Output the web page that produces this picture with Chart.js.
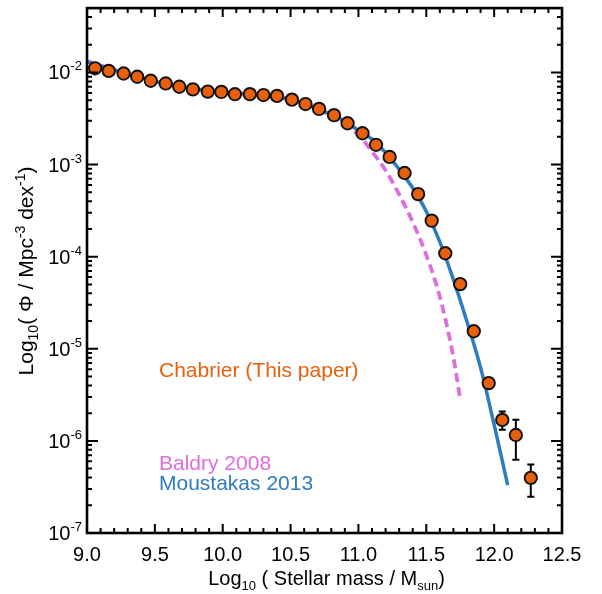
<!DOCTYPE html>
<html>
<head>
<meta charset="utf-8">
<script src="https://cdn.jsdelivr.net/npm/chart.js@4.4.1/dist/chart.umd.min.js"></script>
<style>
  body { margin: 0; background: #fff; }
  #wrap { width: 602px; height: 594px; position: relative; }
</style>
</head>
<body>
<div id="wrap"><canvas id="smf"></canvas></div>
<script>
/* Stellar mass function : Chabrier points vs Baldry 2008 / Moustakas 2013 fits */
const FONT = '"Liberation Sans", Arial, Helvetica, sans-serif';

// Chabrier (This paper)
const massPts = [9.06, 9.16, 9.27, 9.37, 9.47, 9.58, 9.68, 9.78, 9.89, 9.99, 10.09, 10.20, 10.30, 10.40, 10.51, 10.61,
                 10.71, 10.82, 10.92, 11.03, 11.13, 11.23, 11.34, 11.44, 11.54, 11.64, 11.75, 11.85, 11.96, 12.06, 12.16, 12.27];
const phiPts = [1.11e-2, 1.04e-2, 9.75e-3, 8.99e-3, 8.13e-3, 7.60e-3, 7.00e-3, 6.55e-3, 6.20e-3, 6.15e-3, 5.81e-3, 5.82e-3,
                5.69e-3, 5.57e-3, 5.07e-3, 4.54e-3, 4.02e-3, 3.44e-3, 2.81e-3, 2.19e-3, 1.64e-3, 1.21e-3, 8.11e-4, 4.78e-4,
                2.46e-4, 1.09e-4, 5.04e-5, 1.55e-5, 4.24e-6, 1.69e-6, 1.16e-6, 3.97e-7];
const phiLow = [null, null, null, null, null, null, null, null, null, null, null, null, null, null, null, null,
                null, null, null, null, null, null, null, null, null, null, null, null, null, 1.32e-6, 6.25e-7, 2.47e-7];
const phiHigh = [null, null, null, null, null, null, null, null, null, null, null, null, null, null, null, null,
                 null, null, null, null, null, null, null, null, null, null, null, null, null, 2.08e-6, 1.70e-6, 5.56e-7];

// Moustakas 2013
const massMou = [9.0, 9.2, 9.4, 9.6, 9.8, 10.0, 10.2, 10.4, 10.6, 10.8, 10.9, 11.0, 11.1, 11.2, 11.3, 11.4, 11.5, 11.6,
                 11.7, 11.8, 11.9, 12.0, 12.1];
const phiMou = [1.30e-2, 1.06e-2, 8.8e-3, 7.4e-3, 6.6e-3, 6.1e-3, 5.8e-3, 5.5e-3, 4.6e-3, 3.5e-3, 2.96e-3, 2.35e-3,
                1.89e-3, 1.35e-3, 8.9e-4, 5.56e-4, 3.10e-4, 1.45e-4, 5.63e-5, 1.97e-5, 6.24e-6, 1.50e-6, 3.3e-7];

// Baldry 2008
const massBal = [9.0, 9.2, 9.4, 9.6, 9.8, 10.0, 10.2, 10.4, 10.6, 10.8, 10.9, 11.0, 11.1, 11.2, 11.3, 11.4, 11.5, 11.6,
                 11.7, 11.75];
const phiBal = [1.33e-2, 1.07e-2, 8.8e-3, 7.4e-3, 6.6e-3, 6.1e-3, 5.8e-3, 5.45e-3, 4.55e-3, 3.4e-3, 2.68e-3, 2.11e-3,
                1.38e-3, 8.67e-4, 4.74e-4, 2.38e-4, 1.04e-4, 3.66e-5, 8.07e-6, 2.8e-6];

// tick labels
const xTicks = [9.0, 9.5, 10.0, 10.5, 11.0, 11.5, 12.0, 12.5];
const xTickLabels = ['9.0', '9.5', '10.0', '10.5', '11.0', '11.5', '12.0', '12.5'];
const yExps = [-7, -6, -5, -4, -3, -2];

const ORANGE = '#E8600C', PINK = '#DC6FDC', BLUE = '#2D7BC0';

function pairs(xs, ys) {
    return xs.map((x, i) => ({x: x, y: ys[i]}));
}

// draws text pieces with super/subscripts, returns width
function richText(ctx, parts, x, y, measureOnly) {
    let w = 0;
    parts.forEach(p => {
        ctx.font = p.size + 'px ' + FONT;
        if (!measureOnly) ctx.fillText(p.t, x + w, y + (p.dy || 0));
        w += ctx.measureText(p.t).width;
    });
    return w;
}

/* Error bars, drawn under the markers */
const errorBars = {
    id: 'errorBars',
    beforeDatasetsDraw(chart) {
        const {ctx, scales: {x, y}} = chart;
        ctx.save();
        ctx.strokeStyle = '#000';
        ctx.lineWidth = 2;
        massPts.forEach((m, i) => {
            if (phiLow[i] == null) return;
            const px = x.getPixelForValue(m);
            const y1 = y.getPixelForValue(phiLow[i]), y2 = y.getPixelForValue(phiHigh[i]);
            ctx.beginPath();
            ctx.moveTo(px, y1); ctx.lineTo(px, y2);
            ctx.moveTo(px - 3.5, y1); ctx.lineTo(px + 3.5, y1);
            ctx.moveTo(px - 3.5, y2); ctx.lineTo(px + 3.5, y2);
            ctx.stroke();
        });
        ctx.restore();
    }
};

/* Box, inward ticks, labels and titles */
const frame = {
    id: 'frame',
    afterDraw(chart) {
        const {ctx, chartArea: a, scales: {x, y}} = chart;
        ctx.save();
        ctx.strokeStyle = '#000';
        ctx.fillStyle = '#000';

        // x ticks every 0.1, major every 0.5
        ctx.lineWidth = 2;
        ctx.beginPath();
        for (let k = 0; k <= 35; k++) {
            const v = 9 + k * 0.1;
            const px = x.getPixelForValue(v);
            const len = (k % 5 === 0) ? 9 : 5;
            ctx.moveTo(px, a.bottom); ctx.lineTo(px, a.bottom - len);
            ctx.moveTo(px, a.top); ctx.lineTo(px, a.top + len);
        }
        // y ticks: decades major, 2..9 minor
        yExps.forEach(e => {
            for (let m = 1; m <= 9; m++) {
                const v = m * Math.pow(10, e);
                if (v > y.max * 1.0001) break;
                const py = y.getPixelForValue(v);
                const len = (m === 1) ? 11 : 5;
                ctx.moveTo(a.left, py); ctx.lineTo(a.left + len, py);
                ctx.moveTo(a.right, py); ctx.lineTo(a.right - len, py);
            }
        });
        ctx.stroke();

        ctx.lineWidth = 2.6;
        ctx.strokeRect(a.left, a.top, a.right - a.left, a.bottom - a.top);

        // x tick labels
        ctx.font = '20px ' + FONT;
        ctx.textAlign = 'center';
        ctx.textBaseline = 'middle';
        xTicks.forEach((v, i) => {
            ctx.fillText(xTickLabels[i], x.getPixelForValue(v), a.bottom + 22);
        });

        // y tick labels 10^e
        ctx.textAlign = 'left';
        ctx.textBaseline = 'alphabetic';
        yExps.forEach(e => {
            const py = y.getPixelForValue(Math.pow(10, e));
            const parts = [{t: '10', size: 20, dy: 7}, {t: '-' + Math.abs(e), size: 13, dy: -2}];
            const w = richText(ctx, parts, 0, 0, true);
            richText(ctx, parts, a.left - 5 - w, py, false);
        });

        // x title
        const xt = [{t: 'Log', size: 20}, {t: '10', size: 13, dy: 5}, {t: ' ( Stellar mass / M', size: 20},
                    {t: 'sun', size: 13, dy: 5}, {t: ')', size: 20}];
        const xw = richText(ctx, xt, 0, 0, true);
        richText(ctx, xt, (a.left + a.right) / 2 - xw / 2 + 2, 585, false);

        // y title, rotated
        const yt = [{t: 'Log', size: 21}, {t: '10', size: 14, dy: 5}, {t: '( \u03A6 / Mpc', size: 21},
                    {t: '-3', size: 14, dy: -8}, {t: ' dex', size: 21}, {t: '-1', size: 14, dy: -8}, {t: ')', size: 21}];
        const yw = richText(ctx, yt, 0, 0, true);
        ctx.translate(33, 271);
        ctx.rotate(-Math.PI / 2);
        richText(ctx, yt, -yw / 2, 0, false);
        ctx.restore();

        // in-plot labels
        ctx.save();
        ctx.font = '21px ' + FONT;
        ctx.textAlign = 'left';
        ctx.textBaseline = 'alphabetic';
        ctx.fillStyle = ORANGE;
        ctx.fillText('Chabrier (This paper)', 159, 377);
        ctx.fillStyle = PINK;
        ctx.fillText('Baldry 2008', 159, 470);
        ctx.fillStyle = BLUE;
        ctx.fillText('Moustakas 2013', 159, 490);
        ctx.restore();
    }
};

new Chart(document.getElementById('smf').getContext('2d'), {
    type: 'scatter',
    data: {
        datasets: [{
            label: 'Chabrier (This paper)',
            data: pairs(massPts, phiPts),
            backgroundColor: ORANGE,
            borderColor: '#111',
            borderWidth: 1.9,
            pointRadius: 6.2,
            order: 0
        }, {
            label: 'Moustakas 2013',
            data: pairs(massMou, phiMou),
            showLine: true,
            borderColor: BLUE,
            borderWidth: 3.5,
            pointRadius: 0,
            cubicInterpolationMode: 'monotone',
            order: 1
        }, {
            label: 'Baldry 2008',
            data: pairs(massBal, phiBal),
            showLine: true,
            borderColor: PINK,
            borderWidth: 3.8,
            borderDash: [9, 5],
            pointRadius: 0,
            cubicInterpolationMode: 'monotone',
            order: 2
        }]
    },
    options: {
        responsive: true,
        maintainAspectRatio: false,
        animation: false,
        devicePixelRatio: 1,
        layout: { padding: { left: 87, right: 40, top: 5, bottom: 61 } },
        scales: {
            x: { type: 'linear', min: 9, max: 12.5, display: false },
            y: { type: 'logarithmic', min: 1e-7, max: 5e-2, display: false }
        },
        plugins: {
            legend: { display: false },
            tooltip: { enabled: false }
        }
    },
    plugins: [errorBars, frame]
});
</script>
</body>
</html>
